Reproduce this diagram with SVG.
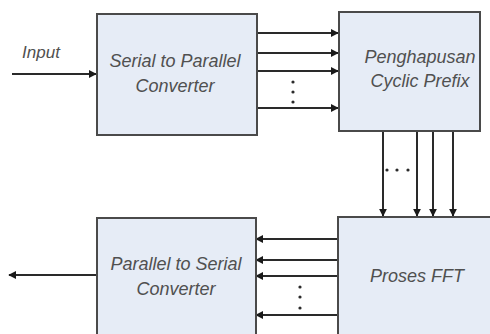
<svg xmlns="http://www.w3.org/2000/svg" width="490" height="334" viewBox="0 0 490 334">
<style>
.box{fill:#e6ecf6;stroke:#4a4a4a;stroke-width:2}
.lbl{font-family:"Liberation Sans",Arial,sans-serif;font-style:italic;font-size:18px;fill:#505050;text-anchor:middle}
.ln{stroke:#2a2a2a;stroke-width:2;fill:none}
.dot{fill:#2a2a2a}
</style>
<defs>
<marker id="ah" viewBox="0 0 10 10" refX="9" refY="5" markerWidth="4" markerHeight="4" orient="auto" markerUnits="strokeWidth">
<path d="M0,0 L10,5 L0,10 z" fill="#1a1a1a"/>
</marker>
</defs>
<rect width="490" height="334" fill="#ffffff"/>
<g id="connectors">
<line class="ln" x1="12" y1="74" x2="96" y2="74" marker-end="url(#ah)"/>
<line class="ln" x1="257" y1="33" x2="338" y2="33" marker-end="url(#ah)"/>
<line class="ln" x1="257" y1="53" x2="338" y2="53" marker-end="url(#ah)"/>
<line class="ln" x1="257" y1="71" x2="338" y2="71" marker-end="url(#ah)"/>
<line class="ln" x1="257" y1="108" x2="338" y2="108" marker-end="url(#ah)"/>
<circle class="dot" cx="293" cy="82" r="1.6"/>
<circle class="dot" cx="293" cy="92" r="1.6"/>
<circle class="dot" cx="293" cy="102" r="1.6"/>
<line class="ln" x1="383" y1="131" x2="383" y2="216" marker-end="url(#ah)"/>
<line class="ln" x1="417" y1="131" x2="417" y2="216" marker-end="url(#ah)"/>
<line class="ln" x1="433" y1="131" x2="433" y2="216" marker-end="url(#ah)"/>
<line class="ln" x1="453" y1="131" x2="453" y2="216" marker-end="url(#ah)"/>
<circle class="dot" cx="387" cy="170" r="1.6"/>
<circle class="dot" cx="397" cy="170" r="1.6"/>
<circle class="dot" cx="408" cy="170" r="1.6"/>
<line class="ln" x1="337" y1="239" x2="256" y2="239" marker-end="url(#ah)"/>
<line class="ln" x1="337" y1="260" x2="256" y2="260" marker-end="url(#ah)"/>
<line class="ln" x1="337" y1="276" x2="256" y2="276" marker-end="url(#ah)"/>
<line class="ln" x1="337" y1="315" x2="256" y2="315" marker-end="url(#ah)"/>
<circle class="dot" cx="300" cy="287" r="1.6"/>
<circle class="dot" cx="300" cy="297" r="1.6"/>
<circle class="dot" cx="300" cy="308" r="1.6"/>
<line class="ln" x1="97" y1="275" x2="9" y2="275" marker-end="url(#ah)"/>
</g>
<g id="input-label">
<text class="lbl" x="41" y="58" style="font-size:17px">Input</text>
</g>
<g id="s2p">
<rect class="box" x="97" y="14" width="160" height="121"/>
<text class="lbl" x="175" y="67">Serial to Parallel</text>
<text class="lbl" x="175" y="92">Converter</text>
</g>
<g id="cp">
<rect class="box" x="339" y="12" width="141" height="119"/>
<text class="lbl" x="420" y="63">Penghapusan</text>
<text class="lbl" x="420" y="87">Cyclic Prefix</text>
</g>
<g id="fft">
<rect class="box" x="338" y="217" width="160" height="130"/>
<text class="lbl" x="417" y="282">Proses FFT</text>
</g>
<g id="p2s">
<rect class="box" x="97" y="218" width="159" height="130"/>
<text class="lbl" x="176" y="270">Parallel to Serial</text>
<text class="lbl" x="176" y="295">Converter</text>
</g>
</svg>
